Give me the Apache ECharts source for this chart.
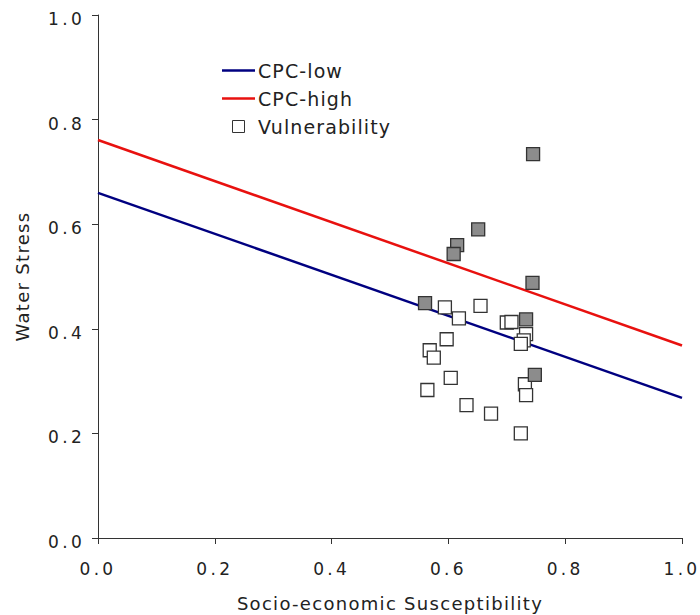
<!DOCTYPE html>
<html><head><meta charset="utf-8">
<script src="https://cdn.jsdelivr.net/npm/echarts@6/dist/echarts.min.js"></script>
<style>
html,body{margin:0;padding:0;background:#fff}
#c{width:700px;height:615px}
#c text[style*="17px"]{letter-spacing:3.3px}
#c text[style*="18px"]{letter-spacing:1.3px}
#c text[style*="19px"]{letter-spacing:1.1px}
</style>
</head><body><div id="c"></div>
<script>
const xTicks = [0.0, 0.2, 0.4, 0.6, 0.8, 1.0];
const yTicks = [0.0, 0.2, 0.4, 0.6, 0.8, 1.0];
const cpcLow = [[0, 0.660], [1, 0.268]];
const cpcHigh = [[0, 0.761], [1, 0.368]];
const vulnOpen = [
  [0.594, 0.441], [0.655, 0.444], [0.618, 0.420], [0.700, 0.412], [0.708, 0.413],
  [0.733, 0.390], [0.729, 0.378], [0.724, 0.371], [0.597, 0.380], [0.568, 0.359],
  [0.575, 0.345], [0.604, 0.306], [0.564, 0.283], [0.731, 0.294], [0.733, 0.273],
  [0.631, 0.254], [0.673, 0.238], [0.724, 0.200]
];
const vulnFilled = [
  [0.745, 0.734], [0.651, 0.590], [0.615, 0.560], [0.609, 0.543], [0.744, 0.488],
  [0.560, 0.449], [0.733, 0.418], [0.748, 0.312]
];
const FONT = 'DejaVu Sans';
const TXT = '#222';
const chart = echarts.init(document.getElementById('c'), null, {renderer: 'svg'});
chart.setOption({
  animation: false,
  textStyle: {fontFamily: FONT},
  grid: {left: 98, right: 18, top: 15, bottom: 77, containLabel: false, outerBoundsMode: 'none'},
  legend: {
    orient: 'vertical', left: 217, top: 56, itemGap: 9, itemWidth: 33, itemHeight: 12,
    textStyle: {fontFamily: FONT, fontSize: 19, color: TXT, padding: [0, 0, 0, -2]},
    data: [
      {name: 'CPC-low', icon: 'path://M0,0L33,0L33,2.5L0,2.5Z', itemStyle: {color: '#000080'}},
      {name: 'CPC-high', icon: 'path://M0,0L33,0L33,2.5L0,2.5Z', itemStyle: {color: '#e8110f'}},
      {name: 'Vulnerability', icon: 'path://M0,0L10,0L10,10L0,10Z',
       itemStyle: {color: '#fff', borderColor: '#333', borderWidth: 1}}
    ]
  },
  xAxis: {
    type: 'value', min: 0, max: 1, interval: 0.2,
    name: 'Socio-economic Susceptibility', nameLocation: 'middle', nameGap: 56,
    nameTextStyle: {fontFamily: FONT, fontSize: 18, color: TXT},
    axisLine: {show: true, onZero: false, lineStyle: {color: '#333', width: 1}},
    axisTick: {show: true, length: 6, lineStyle: {color: '#333'}},
    axisLabel: {fontFamily: FONT, fontSize: 17, color: TXT, margin: 22,
      formatter: v => xTicks.includes(+v.toFixed(1)) ? v.toFixed(1) : ''},
    splitLine: {show: false}
  },
  yAxis: {
    type: 'value', min: 0, max: 1, interval: 0.2,
    name: 'Water Stress', nameLocation: 'middle', nameGap: 67, nameRotate: 90,
    nameTextStyle: {fontFamily: FONT, fontSize: 18, color: TXT},
    axisLine: {show: true, onZero: false, lineStyle: {color: '#333', width: 1}},
    axisTick: {show: true, length: 6, lineStyle: {color: '#333'}},
    axisLabel: {fontFamily: FONT, fontSize: 17, color: TXT, margin: 13,
      verticalAlign: 'top', lineHeight: 8,
      formatter: v => yTicks.includes(+v.toFixed(1)) ? v.toFixed(1) : ''},
    splitLine: {show: false}
  },
  series: [
    {name: 'CPC-low', type: 'line', data: cpcLow, symbol: 'none',
     lineStyle: {color: '#000080', width: 2.5}, itemStyle: {color: '#000080'}, z: 3},
    {name: 'CPC-high', type: 'line', data: cpcHigh, symbol: 'none',
     lineStyle: {color: '#e8110f', width: 2.5}, itemStyle: {color: '#e8110f'}, z: 3},
    {name: 'Vulnerability', type: 'scatter', data: vulnOpen, symbol: 'rect', symbolSize: 13,
     itemStyle: {color: '#fff', borderColor: '#333', borderWidth: 1.3, opacity: 1}, z: 4},
    {name: 'Vulnerability (high)', type: 'scatter', data: vulnFilled, symbol: 'rect', symbolSize: 13,
     itemStyle: {color: '#8c8c8c', borderColor: '#333', borderWidth: 1.3, opacity: 1}, z: 5}
  ]
});
</script></body></html>
